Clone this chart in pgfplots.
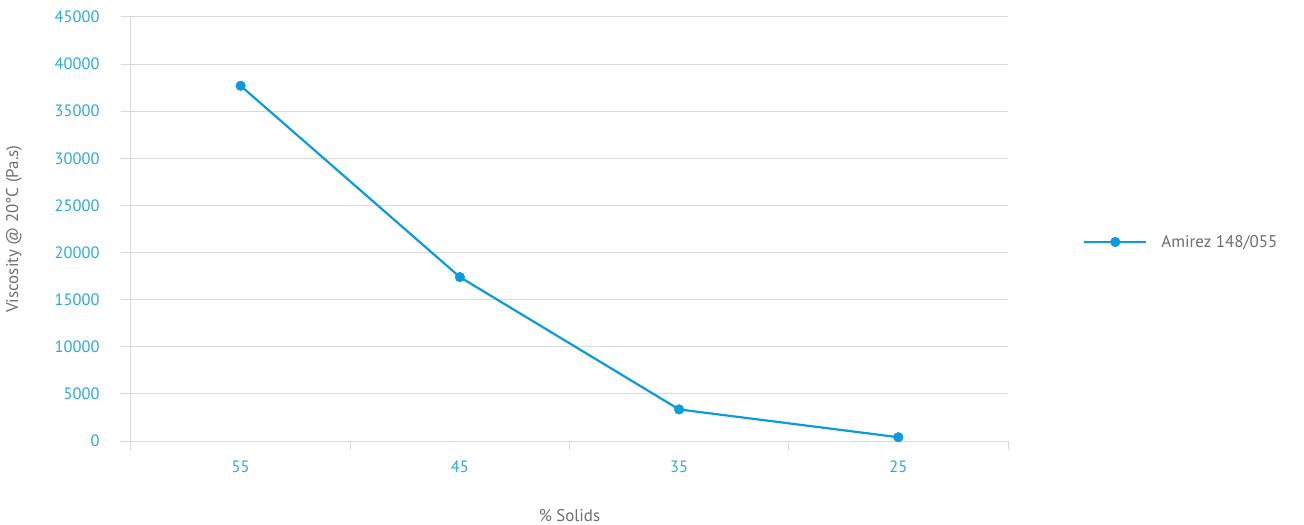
\documentclass[border=0pt]{standalone}
\usepackage{pgfplots}
\pgfplotsset{compat=1.18}
\usepackage{fontspec}
\setmainfont{PT Sans}
\definecolor{lineblue}{HTML}{0A9BDC}
\definecolor{ticklbl}{HTML}{2AA9E0}
\definecolor{lblgray}{HTML}{6E6E6E}
\definecolor{gridgray}{HTML}{D9D9D9}
\begin{document}
\begin{tikzpicture}
\useasboundingbox (-131bp,-84bp) rectangle (1173bp,441bp);
\begin{axis}[
    at={(0,0)}, anchor=south west,
    scale only axis,
    width=877bp, height=424bp,
    xmin=-0.5, xmax=3.5,
    ymin=0, ymax=45000,
    xtick={0,1,2,3},
    xticklabels={55,45,35,25},
    minor xtick={-0.5,0.5,1.5,2.5,3.5},
    ytick={0,5000,...,45000},
    major x tick style={draw=none},
    minor tick length=9bp,
    major tick length=10bp,
    tick align=outside,
    tick style={gridgray, line width=1pt},
    axis x line*=bottom,
    axis y line*=left,
    axis line style={gridgray, line width=1pt, -},
    ymajorgrids=true,
    grid style={gridgray, line width=1pt},
    scaled y ticks=false,
    /pgf/number format/assume math mode=true,
    yticklabel style={font=\fontsize{16.5}{18}\selectfont, text=ticklbl, xshift=-18bp},
    xticklabel style={font=\fontsize{16.5}{18}\selectfont, text=ticklbl, yshift=-6bp},
    yticklabel={\pgfmathprintnumber[fixed,1000 sep={}]{\tick}},
    xlabel={\% Solids},
    ylabel={Viscosity @ 20°C (Pa.s)},
    label style={font=\fontsize{17}{19}\selectfont, text=lblgray},
    xlabel style={at={(axis description cs:0.5,0)}, yshift=-65bp, anchor=north},
    every axis y label/.append style={at={(ticklabel cs:0.5)}, yshift=26bp},
    legend style={at={(952bp,199bp)}, anchor=west, draw=none, fill=none,
        font=\fontsize{17}{19}\selectfont, text=lblgray, inner sep=0pt,
        column sep=12bp},
    legend cell align=left,
    legend image code/.code={
        \draw[#1, mark repeat=2, mark phase=2] plot coordinates {(0bp,0bp) (31bp,0bp) (62bp,0bp)};
    },
]
\addplot[lineblue, line width=2.2pt, mark=*, mark size=4.8bp, mark options={fill=lineblue, draw=lineblue, line width=0.5pt}]
    coordinates {
        (0,37700)
        (1,17400)
        (2,3350)
        (3,400)
    };
\legend{Amirez 148/055}
\end{axis}
\end{tikzpicture}
\end{document}
